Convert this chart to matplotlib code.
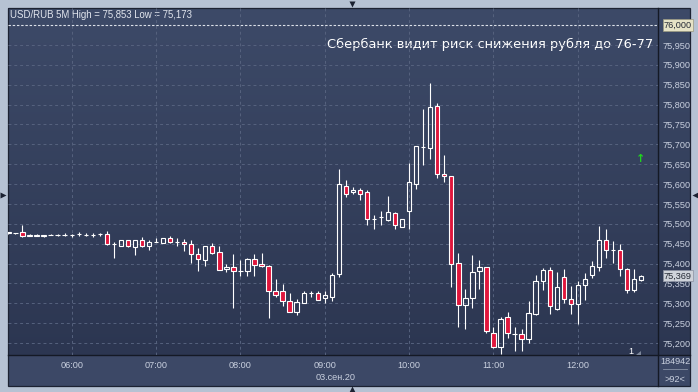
import matplotlib; matplotlib.use("Agg")
import matplotlib.pyplot as plt
import matplotlib.transforms as mtransforms
from matplotlib.colors import LinearSegmentedColormap
from matplotlib.patches import Rectangle, Polygon
import numpy as np
import pandas as pd

# USD/RUB 5-minute candles, 03.09.2020, starting 05:15
start = "2020-09-03 05:15"
opens = [75.476, 75.476, 75.478, 75.469, 75.470, 75.469, 75.472, 75.472, 75.472, 75.472,
         75.473, 75.472, 75.472, 75.473, 75.473, 75.448, 75.444, 75.458, 75.442, 75.460,
         75.445, 75.454, 75.452, 75.463, 75.455, 75.455, 75.450, 75.425, 75.409, 75.443,
         75.428, 75.385, 75.391, 75.382, 75.382, 75.411, 75.398, 75.393, 75.332, 75.330,
         75.305, 75.279, 75.300, 75.325, 75.327, 75.312, 75.316, 75.374, 75.594, 75.580,
         75.584, 75.581, 75.513, 75.516, 75.509, 75.526, 75.493, 75.531, 75.601, 75.693,
         75.691, 75.795, 75.624, 75.619, 75.400, 75.296, 75.312, 75.380, 75.390, 75.224,
         75.191, 75.265, 75.223, 75.222, 75.209, 75.274, 75.355, 75.384, 75.286, 75.365,
         75.310, 75.297, 75.346, 75.370, 75.390, 75.458, 75.435, 75.433, 75.385, 75.334,
         75.358]
highs = [75.479, 75.477, 75.496, 75.473, 75.474, 75.472, 75.473, 75.473, 75.477, 75.473,
         75.478, 75.476, 75.477, 75.477, 75.483, 75.453, 75.458, 75.458, 75.460, 75.466,
         75.460, 75.463, 75.463, 75.468, 75.463, 75.461, 75.458, 75.438, 75.443, 75.451,
         75.443, 75.398, 75.424, 75.409, 75.414, 75.425, 75.426, 75.397, 75.361, 75.348,
         75.325, 75.310, 75.332, 75.332, 75.330, 75.332, 75.377, 75.637, 75.610, 75.592,
         75.591, 75.584, 75.521, 75.531, 75.571, 75.529, 75.511, 75.654, 75.696, 75.789,
         75.853, 75.803, 75.673, 75.619, 75.426, 75.336, 75.421, 75.408, 75.392, 75.239,
         75.265, 75.277, 75.240, 75.236, 75.306, 75.371, 75.389, 75.390, 75.379, 75.386,
         75.343, 75.356, 75.376, 75.406, 75.494, 75.487, 75.456, 75.449, 75.389, 75.385,
         75.370]
lows = [75.475, 75.475, 75.467, 75.468, 75.469, 75.467, 75.471, 75.469, 75.469, 75.467,
        75.469, 75.469, 75.467, 75.469, 75.447, 75.414, 75.444, 75.442, 75.422, 75.442,
        75.434, 75.453, 75.452, 75.452, 75.444, 75.432, 75.402, 75.382, 75.394, 75.424,
        75.384, 75.379, 75.289, 75.368, 75.369, 75.369, 75.392, 75.262, 75.315, 75.294,
        75.279, 75.271, 75.300, 75.315, 75.307, 75.300, 75.305, 75.367, 75.568, 75.574,
        75.561, 75.498, 75.486, 75.496, 75.507, 75.488, 75.492, 75.487, 75.587, 75.648,
        75.663, 75.616, 75.606, 75.342, 75.239, 75.236, 75.289, 75.337, 75.226, 75.187,
        75.173, 75.213, 75.180, 75.180, 75.201, 75.271, 75.333, 75.274, 75.282, 75.300,
        75.274, 75.248, 75.307, 75.364, 75.380, 75.415, 75.402, 75.369, 75.325, 75.328,
        75.357]
closes = [75.478, 75.477, 75.469, 75.471, 75.471, 75.471, 75.472, 75.472, 75.472, 75.472,
          75.473, 75.472, 75.472, 75.473, 75.448, 75.448, 75.458, 75.443, 75.460, 75.443,
          75.455, 75.455, 75.463, 75.455, 75.455, 75.450, 75.424, 75.412, 75.443, 75.427,
          75.384, 75.391, 75.380, 75.382, 75.411, 75.397, 75.393, 75.332, 75.322, 75.305,
          75.279, 75.302, 75.327, 75.325, 75.307, 75.322, 75.372, 75.601, 75.575, 75.586,
          75.575, 75.513, 75.513, 75.516, 75.529, 75.496, 75.511, 75.604, 75.695, 75.693,
          75.793, 75.626, 75.619, 75.398, 75.295, 75.312, 75.378, 75.390, 75.229, 75.191,
          75.260, 75.224, 75.223, 75.211, 75.275, 75.356, 75.384, 75.292, 75.342, 75.310,
          75.297, 75.345, 75.360, 75.393, 75.458, 75.433, 75.435, 75.387, 75.333, 75.360,
          75.369]
price_ticks = [75.20, 75.25, 75.30, 75.35, 75.40, 75.45, 75.50, 75.55, 75.60, 75.65,
               75.70, 75.75, 75.80, 75.85, 75.90, 75.95]
hour_labels = ["06:00", "07:00", "08:00", "09:00", "10:00", "11:00", "12:00"]
last_price = 75.369
high_val, low_val = 75.853, 75.173
volume_text = "184942"
count_text = ">92<"

W, H = 698, 392
PX0, PX1, PY0, PY1 = 8, 658, 8, 355
BOT = 386
RED = "#e0163c"
LBL = "#c9d0df"
SMALL = dict(family=["Liberation Sans", "DejaVu Sans"], fontsize=6.6)

def fr(x0, y0, x1, y1):
    return [x0 / W, 1 - y1 / H, (x1 - x0) / W, (y1 - y0) / H]

fig = plt.figure(figsize=(W / 100, H / 100), dpi=100, facecolor="#b6c2d3")
bg = fig.add_axes([0, 0, 1, 1])
bg.set_xlim(0, W); bg.set_ylim(H, 0); bg.axis("off")

cmap = LinearSegmentedColormap.from_list("panel", ["#3d4a68", "#2c3651"])
grad = np.linspace(0, 1, 256).reshape(-1, 1)
bg.imshow(grad, cmap=cmap, extent=(PX0, 690, PY1, PY0), aspect="auto", zorder=0)
bg.add_patch(Rectangle((PX0, PY1), 690 - PX0, BOT - PY1, fc="#3c4866", ec="none", zorder=0))
bg.add_patch(Rectangle((PX0, PY0), 690 - PX0, BOT - PY0, fc="none", ec="#1c2232", lw=0.9, zorder=1))
bg.plot([PX1, PX1], [PY0, BOT], color="#141925", lw=1.0, zorder=1)
bg.plot([PX0, 690], [PY1, PY1], color="#141925", lw=1.0, zorder=1)
bg.plot([663, 687], [369, 369], color="#8791a6", lw=0.6, zorder=1)
bg.set_ylim(H, 0); bg.set_xlim(0, W)

for mx, my, mk in [(352, 3.5, "v"), (352, 389, "^"), (3, 195, ">"), (694.5, 195, "<")]:
    bg.plot(mx, my, marker=mk, ms=5, color="#1b2131", mec="none", clip_on=False)

bg.text(10, 15, f"USD/RUB 5M High = {high_val:.3f} Low = {low_val:.3f}".replace(".", ","),
        color="#e2e6ee", va="center", ha="left", family=SMALL["family"], fontsize=6.9)
bg.text(653, 44, "Сбербанк видит риск снижения рубля до 76-77", color="white",
        fontsize=9.4, va="center", ha="right")
bg.text(675, 361, volume_text, color=LBL, ha="center", va="center", **SMALL)
bg.text(675, 380, count_text, color=LBL, ha="center", va="center", **SMALL)
bg.text(631, 352, "1", color="white", ha="center", va="center", **SMALL)
bg.add_patch(Polygon([[636, 355], [641, 355], [641, 351]], closed=True, fc="#7c869a", ec="none"))
bg.text(641, 159, "↑", color="#1fd41f", fontsize=8, fontweight="bold", ha="center", va="center")
bg.text(336, 377, "03.сен.20", color=LBL, ha="center", va="center", **SMALL)

ax = fig.add_axes(fr(PX0, PY0, PX1, PY1))
ax.set_facecolor("none")
for s in ax.spines.values():
    s.set_visible(False)

n = len(opens)
times = pd.date_range(start, periods=n, freq="5min")
xs = np.arange(n)
o = np.array(opens); h = np.array(highs); l = np.array(lows); c = np.array(closes)
x_left = -0.06
ax.set_xlim(x_left, x_left + (PX1 - PX0) / 7.03)
ax.set_ylim(76.0 - (PY1 - 25) / 397.5, 76.0 + (25 - PY0) / 397.5)

hour_pos = [int(np.where(times.strftime("%H:%M") == lab)[0][0]) for lab in hour_labels]
for hp in hour_pos:
    ax.axvline(hp, color="#56627e", lw=0.7, dashes=(3, 3), zorder=1)
for p in price_ticks:
    ax.axhline(p, color="#56627e", lw=0.7, dashes=(3, 3), zorder=1)
ax.axhline(76.0, color="#dde1ea", lw=0.8, dashes=(2.2, 1.6), zorder=1)

top_b = np.maximum(o, c); bot_b = np.minimum(o, c)
ax.vlines(xs, top_b, h, color="white", lw=0.8, zorder=2)
ax.vlines(xs, l, bot_b, color="white", lw=0.8, zorder=2)
faces = [RED if cc < oo else "none" for oo, cc in zip(o, c)]
ax.bar(xs, top_b - bot_b, bottom=bot_b, width=0.62, color=faces, edgecolor="white",
       linewidth=0.8, zorder=3)

ax.yaxis.tick_right()
ax.set_yticks(price_ticks)
ax.set_yticklabels([f"{p:.3f}".replace(".", ",") for p in price_ticks])
ax.tick_params(axis="y", length=0, pad=3, labelcolor=LBL)
for t in ax.get_yticklabels():
    t.set_fontfamily(SMALL["family"]); t.set_fontsize(SMALL["fontsize"])
ax.set_xticks([])

ytr = ax.get_yaxis_transform()
for val, fc, ec in [(76.0, "#e6e3c6", "#9a9880"), (last_price, "#cfd3da", "#8a90a0")]:
    ax.text(1.009, val, f"{val:.3f}".replace(".", ","), transform=ytr, color="#252a35",
            va="center", ha="left", clip_on=False, zorder=10,
            bbox=dict(boxstyle="square,pad=0.12", fc=fc, ec=ec, lw=0.5), **SMALL)

tr = mtransforms.blended_transform_factory(ax.transData, bg.transData)
for hp, lab in zip(hour_pos, hour_labels):
    ax.text(hp, 366, lab, transform=tr, color=LBL, ha="center", va="center",
            clip_on=False, **SMALL)

fig.savefig("out.png", dpi=100, facecolor=fig.get_facecolor())
